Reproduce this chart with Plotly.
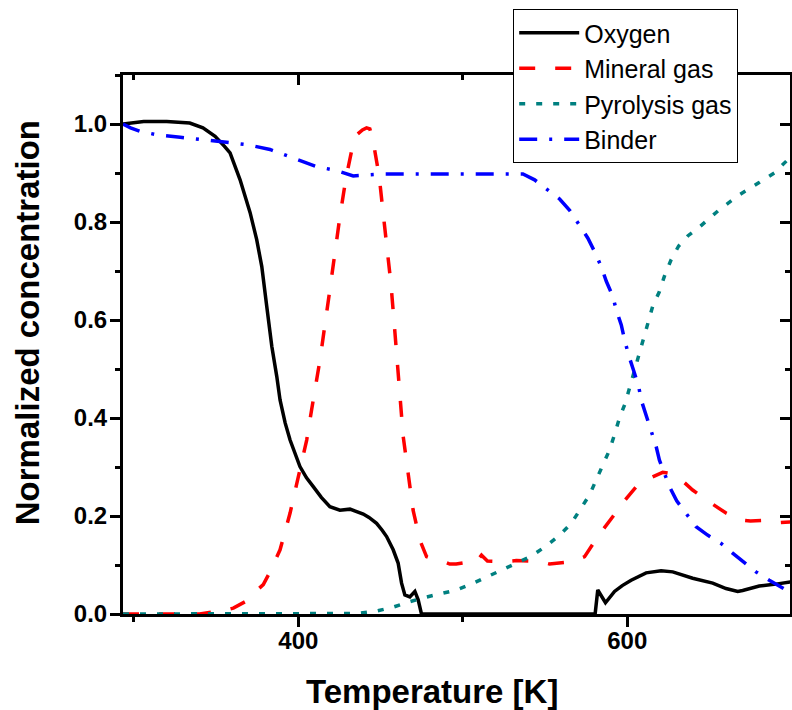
import plotly.graph_objects as go

# ---- data ----
oxy_x = [293.4, 300, 306, 320, 334, 342, 349.4, 355, 358.5, 364.6, 370.7, 374.7, 377.8, 380.8,
         383.9, 386.9, 388.9, 392, 395, 401, 405, 409.1, 414, 419.2, 425.3, 431.4, 435, 439.5,
         443, 447.6, 451, 453.7, 457.7, 460.7, 462.8, 464.8, 467.8, 470.9, 472.9, 474.9,
         520, 580.5, 582.1, 586.8, 592.3, 597, 602.4, 611.5, 620.6, 627.7, 639.8, 652, 660.1,
         667.2, 670.2, 680.3, 690.5, 700]
oxy_y = [1.0, 1.003, 1.005, 1.005, 1.002, 0.992, 0.975, 0.955, 0.941, 0.886, 0.819, 0.764, 0.709, 0.628,
         0.546, 0.485, 0.437, 0.39, 0.355, 0.301, 0.278, 0.26, 0.238, 0.219, 0.212, 0.214, 0.21, 0.204,
         0.197, 0.185, 0.171, 0.158, 0.131, 0.104, 0.063, 0.039, 0.035, 0.046, 0.029, 0.0,
         0.0, 0.0, 0.049, 0.023, 0.046, 0.058, 0.069, 0.084, 0.088, 0.086, 0.073, 0.063, 0.052,
         0.046, 0.048, 0.057, 0.061, 0.066]

min_x = [293.4, 340, 348, 355, 360.5, 367.6, 372, 378.7, 382.8, 388.9, 395, 401, 405.1, 408.1,
         411.2, 413.2, 419.2, 422.3, 425.3, 429, 433.4, 435.5, 439, 441.5, 443.5, 445.5, 449.2,
         451.6, 454, 456.3, 458.3, 460.1, 461.7, 463.8, 466.8, 469.8, 473.9, 478, 482, 486,
         492.1, 496, 500, 504.3, 508.3, 511.4, 515, 524.5, 532.6, 546.7, 552.8, 560, 567, 574.1,
         582.1, 591.3, 595.3, 605.5, 611.5, 621.6, 625.7, 631.8, 639.8, 648, 660.1, 668.2, 675,
         682.3, 690.5, 700]
min_y = [0.0, 0.0, 0.004, 0.007, 0.012, 0.025, 0.04, 0.06, 0.086, 0.131, 0.206, 0.294, 0.355, 0.417,
         0.478, 0.519, 0.662, 0.743, 0.811, 0.89, 0.961, 0.978, 0.988, 0.992, 0.99, 0.965, 0.893,
         0.818, 0.75, 0.675, 0.594, 0.519, 0.444, 0.362, 0.287, 0.212, 0.151, 0.117, 0.112, 0.11,
         0.102, 0.102, 0.104, 0.11, 0.107, 0.12, 0.108, 0.107, 0.109, 0.107, 0.102, 0.104, 0.107, 0.117,
         0.158, 0.199, 0.219, 0.26, 0.274, 0.289, 0.287, 0.277, 0.253, 0.233, 0.206, 0.192, 0.19,
         0.191, 0.186, 0.188]

pyr_x = [293.4, 420, 435.5, 447.6, 457.7, 465.8, 475.9, 486, 496.2, 505.3, 514.4, 524.5, 533.6,
         541.7, 550.8, 558.9, 566, 571, 577.1, 581.2, 585.2, 589.3, 592.3, 595.3, 598.8, 601.8,
         607.5, 612.5, 615.5, 619.6, 622.6, 626.7, 631.3, 637, 644, 656, 668, 680, 689.5, 700]
pyr_y = [0.0, 0.0, 0.001, 0.006, 0.014, 0.023, 0.033, 0.041, 0.049, 0.061, 0.075, 0.09, 0.104,
         0.118, 0.139, 0.161, 0.185, 0.212, 0.243, 0.274, 0.304, 0.335, 0.366, 0.4, 0.43, 0.466,
         0.532, 0.594, 0.628, 0.658, 0.689, 0.723, 0.751, 0.772, 0.79, 0.825, 0.855, 0.88, 0.9, 0.935]

bin_x = [293.4, 298, 303.9, 314, 328.2, 342.3, 356.5, 368.7, 382.8, 397, 411.2, 423.3, 433.4,
         441.5, 451.6, 470, 500, 516.4, 527.5, 536.6, 543.7, 551.8, 558.9, 565, 571, 576.1, 580.1,
         584.2, 587.3, 591.3, 593.3, 596.4, 598.4, 600.8, 603.8, 607, 608.5, 611.5, 614.6, 617.6,
         619.6, 622.6, 625.7, 630.1, 635.8, 641.9, 648.9, 657.1, 664.1, 671.2, 678.3, 686.4,
         692.5, 696.6, 700]
bin_y = [1.0, 0.992, 0.985, 0.978, 0.973, 0.968, 0.962, 0.958, 0.948, 0.931, 0.913, 0.905, 0.894,
         0.896, 0.898, 0.898, 0.898, 0.898, 0.898, 0.898, 0.886, 0.866, 0.847, 0.824, 0.794, 0.767, 0.74,
         0.709, 0.679, 0.648, 0.621, 0.59, 0.56, 0.529, 0.498, 0.464, 0.437, 0.406, 0.372, 0.342,
         0.314, 0.287, 0.26, 0.231, 0.206, 0.178, 0.161, 0.144, 0.124, 0.105, 0.086, 0.069,
         0.056, 0.049, 0.045]

names = ["Oxygen", "Mineral gas", "Pyrolysis gas", "Binder"]
colors = ["#000000", "#FF0000", "#008080", "#0000FF"]
dashes = ["solid", "16px,20px", "6px,11px", "18px,12px,3px,12px"]
widths = [3.5, 3.5, 3.5, 3.5]

x_title = "Temperature [K]"
y_title = "Normalized concentration"

FONT = "Liberation Sans, Arial, sans-serif"

fig = go.Figure()
for xs, ys, nm, c, d, w in zip([oxy_x, min_x, pyr_x, bin_x], [oxy_y, min_y, pyr_y, bin_y],
                               names, colors, dashes, widths):
    fig.add_trace(go.Scatter(x=xs, y=ys, name=nm, mode="lines",
                             line=dict(color=c, dash=d, width=w)))

# empty trace to activate mirrored (inward-tick) axes
fig.add_trace(go.Scatter(x=[], y=[], xaxis="x2", yaxis="y2", showlegend=False, hoverinfo="skip"))

tickfont = dict(family=FONT, size=24, color="black", weight="bold")
titlefont = dict(family=FONT, size=33, color="black", weight="bold")
common = dict(showline=True, linecolor="black", linewidth=3, showgrid=False, zeroline=False,
              tickcolor="black", tickwidth=2.5, layer="below traces")

fig.update_layout(
    width=792, height=710,
    margin=dict(l=123, r=2, t=75, b=96, autoexpand=False),
    plot_bgcolor="white", paper_bgcolor="white",
    showlegend=True,
    xaxis=dict(range=[293.4, 699], tick0=0, dtick=200, ticks="outside", ticklen=10,
               minor=dict(dtick=100, ticks="outside", ticklen=5, tickcolor="black", tickwidth=2.5),
               tickfont=tickfont, ticklabelstandoff=-7, **common),
    yaxis=dict(range=[0, 1.1], tick0=0, dtick=0.2, tickformat=".1f", ticks="outside", ticklen=10,
               minor=dict(dtick=0.1, ticks="outside", ticklen=5, tickcolor="black", tickwidth=2.5),
               tickfont=tickfont, ticklabelstandoff=-2, **common),
    xaxis2=dict(overlaying="x", side="top", matches="x", ticks="inside", ticklen=10,
                tick0=0, dtick=200, showticklabels=False,
                minor=dict(dtick=100, ticks="inside", ticklen=5, tickcolor="black", tickwidth=2.5),
                **common),
    yaxis2=dict(overlaying="y", side="right", matches="y", ticks="inside", ticklen=10,
                tick0=0, dtick=0.2, showticklabels=False,
                minor=dict(dtick=0.1, ticks="inside", ticklen=5, tickcolor="black", tickwidth=2.5),
                **common),
    legend=dict(x=0.585, y=1.1224, xanchor="left", yanchor="top",
                bgcolor="white", bordercolor="black", borderwidth=1,
                font=dict(family=FONT, size=25, color="black"),
                itemwidth=60, tracegroupgap=0, entrywidth=230, entrywidthmode="pixels"),
    annotations=[
        dict(text=x_title, xref="paper", yref="paper", x=0.463, y=-0.143,
             xanchor="center", yanchor="middle", showarrow=False, font=titlefont),
        dict(text=y_title, xref="paper", yref="paper", x=-0.142, y=0.54, textangle=-90,
             xanchor="center", yanchor="middle", showarrow=False, font=titlefont),
    ],
)

fig.write_html("out.html", config={"displayModeBar": False},
               post_script="document.body.style.margin='0';document.body.style.overflow='hidden';")
